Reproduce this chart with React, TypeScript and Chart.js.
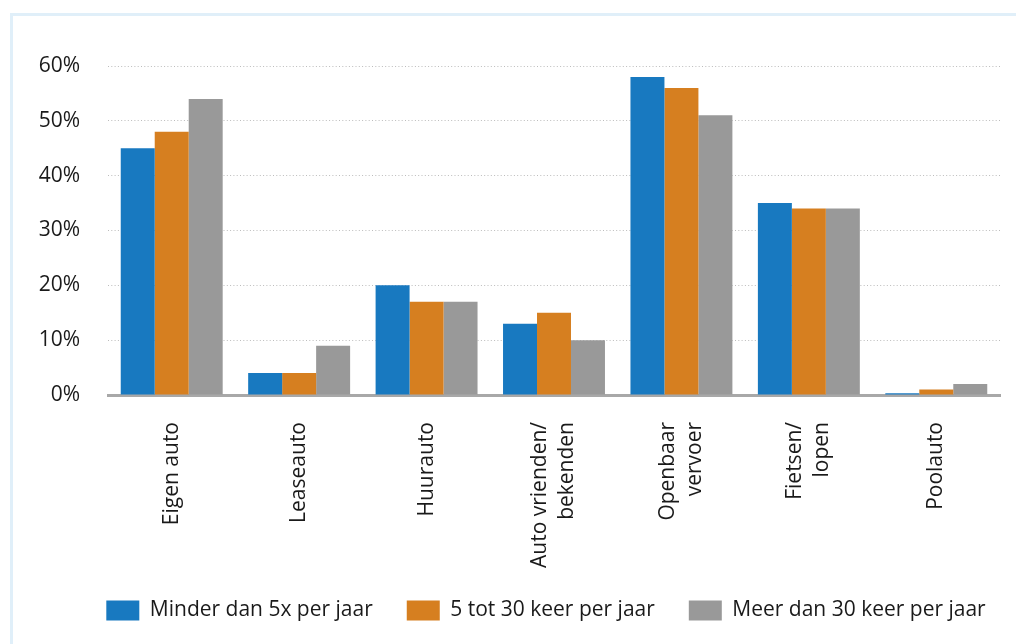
import React, { useEffect, useRef } from "react";
import { Chart, registerables } from "chart.js";

Chart.register(...registerables);

const categories: (string | string[])[] = [
  "Eigen auto",
  "Leaseauto",
  "Huurauto",
  ["Auto vrienden/", "bekenden"],
  ["Openbaar", "vervoer"],
  ["Fietsen/", "lopen"],
  "Poolauto",
];

const seriesNames = [
  "Minder dan 5x per jaar",
  "5 tot 30 keer per jaar",
  "Meer dan 30 keer per jaar",
];

const minderDan5x = [45, 4, 20, 13, 58, 35, 0.3];
const vijfTot30 = [48, 4, 17, 15, 56, 34, 1];
const meerDan30 = [54, 9, 17, 10, 51, 34, 2];

const yTicks = [0, 10, 20, 30, 40, 50, 60];

const colors = ["#1879c0", "#d67f20", "#999999"];

const FONT = "'Open Sans', 'Noto Sans', sans-serif";
const FS = 21;
const TEXT = "#1a1a1a";

const xLabelPlugin = {
  id: "xLabels",
  afterLayout(chart: any) {
    const lg = chart.legend;
    if (lg) {
      lg.left += 46;
      lg.right += 46;
    }
  },
  afterDraw(chart: any) {
    const s = chart.scales.x;
    const ctx = chart.ctx;
    ctx.save();
    ctx.font = `${FS}px ${FONT}`;
    ctx.fillStyle = TEXT;
    ctx.textAlign = "right";
    ctx.textBaseline = "middle";
    const lh = 27;
    categories.forEach((lab, i) => {
      const lines = Array.isArray(lab) ? lab : [lab];
      const x0 = s.getPixelForTick(i);
      const y = s.top + 27;
      lines.forEach((ln, j) => {
        const x = x0 + (j - (lines.length - 1) / 2) * lh;
        ctx.save();
        ctx.translate(x, y);
        ctx.rotate(-Math.PI / 2);
        ctx.fillText(ln, 0, 0);
        ctx.restore();
      });
    });
    ctx.restore();
  },
};

export default function App() {
  const ref = useRef<HTMLCanvasElement | null>(null);

  useEffect(() => {
    if (!ref.current) return;
    const chart = new Chart(ref.current, {
      type: "bar",
      data: {
        labels: categories,
        datasets: [minderDan5x, vijfTot30, meerDan30].map((d, i) => ({
          label: seriesNames[i],
          data: d,
          backgroundColor: colors[i],
          borderWidth: 0,
          categoryPercentage: 0.8,
          barPercentage: 1.0,
        })),
      },
      options: {
        responsive: false,
        animation: false,
        layout: { padding: { top: 66, left: 0, right: 16, bottom: 13 } },
        plugins: {
          tooltip: { enabled: false },
          legend: {
            position: "bottom",
            labels: {
              boxWidth: 33,
              boxHeight: 20,
              padding: 34,
              color: TEXT,
              font: { family: FONT, size: FS },
            },
          },
        },
        scales: {
          x: {
            grid: { display: false, drawTicks: false },
            border: { display: true, color: "#a8a8a8", width: 3 },
            ticks: { display: false },
            afterFit: (s: any) => {
              s.height = 171;
            },
          },
          y: {
            min: 0,
            max: 60,
            afterBuildTicks: (s: any) => {
              s.ticks = yTicks.map((v) => ({ value: v }));
            },
            grid: {
              drawTicks: false,
              color: (ctx: any) => (ctx.tick && ctx.tick.value === 0 ? "rgba(0,0,0,0)" : "#bcbcbc"),
              lineWidth: 1,
            },
            border: { display: false, dash: [1, 2.3] },
            ticks: {
              padding: 28,
              color: TEXT,
              font: { family: FONT, size: FS },
              callback: (v: any) => `${v}%`,
            },
            afterFit: (s: any) => {
              s.width = 108;
            },
          },
        },
      },
      plugins: [xLabelPlugin],
    });
    return () => chart.destroy();
  }, []);

  return (
    <div style={{ position: "fixed", left: 0, top: 0, width: 1016, height: 644, background: "#fff", overflow: "hidden" }}>
      <div
        style={{
          position: "absolute",
          left: 10,
          top: 13,
          width: 1100,
          height: 700,
          borderLeft: "3px solid #e0eff9",
          borderTop: "3px solid #e0eff9",
        }}
      />
      <canvas ref={ref} width={1016} height={644} style={{ position: "absolute", left: 0, top: 0 }} />
    </div>
  );
}
